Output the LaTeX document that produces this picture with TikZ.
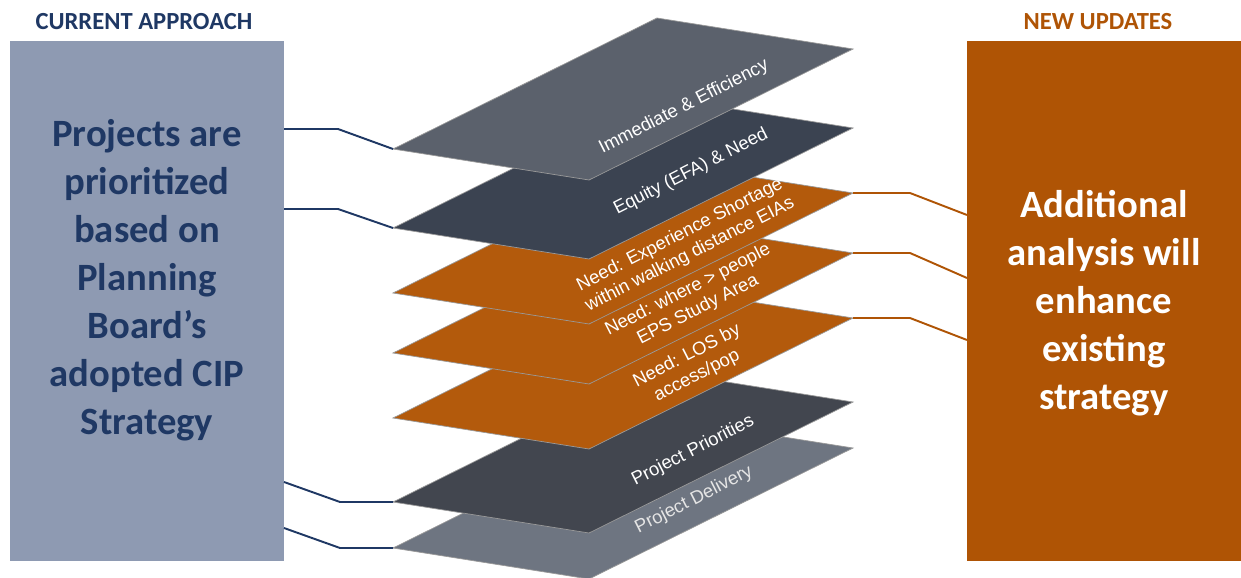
\documentclass[tikz,border=0pt]{standalone}
\usepackage{fontspec}
\setmainfont{Carlito}
\newfontfamily\layerfont{Liberation Sans}
\usetikzlibrary{calc}

\definecolor{navytext}{HTML}{1F3864}
\definecolor{currentfill}{HTML}{8E9AB2}
\definecolor{updatefill}{HTML}{AF5405}
\definecolor{sheetorange}{HTML}{B35A0C}
\definecolor{sheetgrey}{HTML}{5B616C}
\definecolor{sheetdark}{HTML}{3B4351}
\definecolor{sheetslate}{HTML}{42464F}
\definecolor{sheetlight}{HTML}{6E7581}

\begin{document}
\begin{tikzpicture}[x=0.02cm,y=-0.02cm,
	sheet/.style={draw=gray!80, line width=0.4pt, fill=#1},
	sheettext/.style={text=white, rotate=27, align=center, inner sep=0pt, font=\layerfont\fontsize{10.5}{12.5}\selectfont},
	boxtext/.style={align=center, font=\bfseries\fontsize{22}{27.3}\selectfont},
	heading/.style={font=\bfseries\fontsize{14}{16}\selectfont},
	navylink/.style={draw=navytext, line width=1.1pt},
	orangelink/.style={draw=updatefill, line width=1.1pt}]

	\useasboundingbox (0,0) rectangle (1241,578);

	\node (cur) [fill=currentfill, inner sep=0pt, anchor=north west, minimum width=5.48cm, minimum height=10.4cm] at (10,41) {};
	\node (new) [fill=updatefill, inner sep=0pt, anchor=north west, minimum width=5.48cm, minimum height=10.4cm] at (967,41) {};
	\node (curtitle) [heading, text=navytext] at (144,22) {CURRENT APPROACH};
	\node (newtitle) [heading, text=updatefill] at (1098,22) {NEW UPDATES};
	\node (curtext) [boxtext, text=navytext] at (147,280) {Projects are\\prioritized\\based on\\Planning\\Board’s\\adopted CIP\\Strategy};
	\node (newtext) [boxtext, text=white] at (1104,303) {Additional\\analysis will\\enhance\\existing\\strategy};

	\coordinate (delivery) at (393,548);
	\coordinate (priorities) at (393,502);
	\coordinate (los) at (393,418);
	\coordinate (where) at (393,353);
	\coordinate (shortage) at (393,293);
	\coordinate (equity) at (393,228);
	\coordinate (immediate) at (393,149);
	\coordinate (los r) at (853,318);
	\coordinate (where r) at (853,253);
	\coordinate (shortage r) at (853,193);

	\draw [sheet=sheetlight] (delivery) -- ++(264,-131) -- ++(196,31) -- ++(-264,131) -- cycle;
	\draw [sheet=sheetslate] (priorities) -- ++(264,-131) -- ++(196,31) -- ++(-264,131) -- cycle;
	\draw [sheet=sheetorange] (los) -- ++(264,-131) -- ++(196,31) -- ++(-264,131) -- cycle;
	\draw [sheet=sheetorange] (where) -- ++(264,-131) -- ++(196,31) -- ++(-264,131) -- cycle;
	\draw [sheet=sheetorange] (shortage) -- ++(264,-131) -- ++(196,31) -- ++(-264,131) -- cycle;
	\draw [sheet=sheetdark] (equity) -- ++(264,-131) -- ++(196,31) -- ++(-264,131) -- cycle;
	\draw [sheet=sheetgrey] (immediate) -- ++(264,-131) -- ++(196,31) -- ++(-264,131) -- cycle;

	\node (deliverytext) [sheettext, text=gray!20] at (694,500) {Project Delivery};
	\node (prioritiestext) [sheettext] at (693,451) {Project Priorities};
	\node (lostext) [sheettext] at (692,366) {Need: LOS by\\access/pop};
	\node (wheretext) [sheettext] at (693,300) {Need: where > people\\EPS Study Area};
	\node (shortagetext) [sheettext] at (685,245) {Need: Experience Shortage\\within walking distance EIAs};
	\node (equitytext) [sheettext] at (691,172) {Equity (EFA) \& Need};
	\node (immediatetext) [sheettext] at (684,107) {Immediate \& Efficiency};

	\coordinate (c1) at (284,129);
	\coordinate (c2) at (284,209);
	\coordinate (c3) at (284,482);
	\coordinate (c4) at (284,528);
	\coordinate (u1) at (967,215);
	\coordinate (u2) at (967,278);
	\coordinate (u3) at (967,340);

	\draw [navylink] (c1) -- ++(54,0) -- (immediate);
	\draw [navylink] (c2) -- ++(54,0) -- (equity);
	\draw [navylink] (c3) -- ++(56,20) -- (priorities);
	\draw [navylink] (c4) -- ++(56,20) -- (delivery);
	\draw [orangelink] (shortage r) -- ++(57,0) -- (u1);
	\draw [orangelink] (where r) -- ++(57,0) -- (u2);
	\draw [orangelink] (los r) -- ++(57,0) -- (u3);

\end{tikzpicture}
\end{document}
